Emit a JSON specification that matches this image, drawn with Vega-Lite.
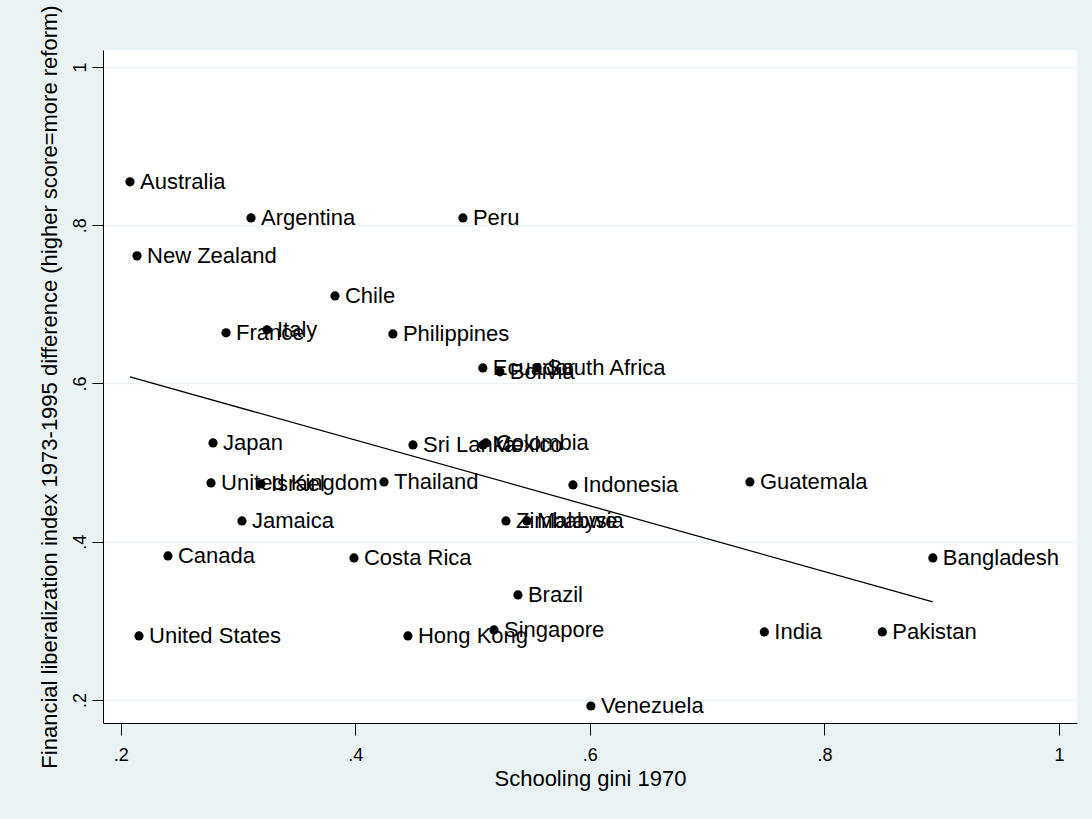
{
  "$schema": "https://vega.github.io/schema/vega-lite/v6.json",
  "width": 974,
  "height": 673,
  "autosize": {"type": "none"},
  "padding": {"left": 103, "top": 50, "right": 15, "bottom": 96},
  "background": "#EAF2F3",
  "config": {
    "view": {"fill": "white", "stroke": null},
    "font": "Liberation Sans"
  },
  "data": {
    "values": [
      {"country": "Australia", "gini": 0.2079, "fl": 0.8549},
      {"country": "Argentina", "gini": 0.3111, "fl": 0.8093},
      {"country": "Peru", "gini": 0.4918, "fl": 0.8093},
      {"country": "New Zealand", "gini": 0.2139, "fl": 0.7613},
      {"country": "Chile", "gini": 0.3827, "fl": 0.7107},
      {"country": "France", "gini": 0.2898, "fl": 0.664},
      {"country": "Italy", "gini": 0.3247, "fl": 0.6678},
      {"country": "Philippines", "gini": 0.4321, "fl": 0.6627},
      {"country": "Ecuador", "gini": 0.5088, "fl": 0.6197},
      {"country": "Bolivia", "gini": 0.5233, "fl": 0.6147},
      {"country": "South Africa", "gini": 0.5549, "fl": 0.6197},
      {"country": "Japan", "gini": 0.2787, "fl": 0.5249},
      {"country": "Sri Lanka", "gini": 0.4492, "fl": 0.5224},
      {"country": "Colombia", "gini": 0.5114, "fl": 0.5249},
      {"country": "Mexico", "gini": 0.5088, "fl": 0.5224},
      {"country": "United Kingdom", "gini": 0.277, "fl": 0.4743},
      {"country": "Israel", "gini": 0.3196, "fl": 0.4731},
      {"country": "Thailand", "gini": 0.4245, "fl": 0.4756},
      {"country": "Indonesia", "gini": 0.5856, "fl": 0.4718},
      {"country": "Guatemala", "gini": 0.7365, "fl": 0.4756},
      {"country": "Jamaica", "gini": 0.3034, "fl": 0.4263},
      {"country": "Zimbabwe", "gini": 0.5285, "fl": 0.4263},
      {"country": "Malaysia", "gini": 0.5464, "fl": 0.4263},
      {"country": "Canada", "gini": 0.2403, "fl": 0.382},
      {"country": "Costa Rica", "gini": 0.3989, "fl": 0.3795},
      {"country": "Bangladesh", "gini": 0.8925, "fl": 0.3795},
      {"country": "Brazil", "gini": 0.5387, "fl": 0.3327},
      {"country": "United States", "gini": 0.2156, "fl": 0.2809},
      {"country": "Hong Kong", "gini": 0.4449, "fl": 0.2809},
      {"country": "Singapore", "gini": 0.5183, "fl": 0.2885},
      {"country": "India", "gini": 0.7488, "fl": 0.286},
      {"country": "Pakistan", "gini": 0.8494, "fl": 0.286},
      {"country": "Venezuela", "gini": 0.6009, "fl": 0.1924}
    ]
  },
  "encoding": {
    "x": {
      "field": "gini",
      "type": "quantitative",
      "scale": {"domain": [0.1849, 1.0154], "nice": false, "zero": false},
      "axis": {
        "title": "Schooling gini 1970",
        "values": [0.2, 0.4, 0.6, 0.8, 1],
        "labelExpr": "datum.value >= 0.99 ? '1' : replace(format(datum.value, '.1f'), '0.', '.')",
        "grid": false,
        "domainColor": "black",
        "domainWidth": 1,
        "tickColor": "black",
        "tickWidth": 1,
        "tickSize": 12,
        "labelFontSize": 18,
        "labelColor": "black",
        "labelPadding": 11,
        "labelFlush": false,
        "labelOverlap": false,
        "titleFontSize": 22,
        "titleFontWeight": "normal",
        "titleColor": "black",
        "titlePadding": 4
      }
    },
    "y": {
      "field": "fl",
      "type": "quantitative",
      "scale": {"domain": [0.1709, 1.0215], "nice": false, "zero": false},
      "axis": {
        "title": "Financial liberalization index 1973-1995 difference (higher score=more reform)",
        "values": [0.2, 0.4, 0.6, 0.8, 1],
        "labelExpr": "datum.value >= 0.99 ? '1' : replace(format(datum.value, '.1f'), '0.', '.')",
        "grid": true,
        "gridColor": "#EAF2F3",
        "gridWidth": 1.5,
        "domainColor": "black",
        "domainWidth": 1,
        "tickColor": "black",
        "tickWidth": 1,
        "tickSize": 11,
        "labelAngle": -90,
        "labelAlign": "center",
        "labelBaseline": "bottom",
        "labelFontSize": 18,
        "labelColor": "black",
        "labelPadding": 3,
        "labelFlush": false,
        "labelOverlap": false,
        "titleFontSize": 22,
        "titleFontWeight": "normal",
        "titleColor": "black",
        "titlePadding": 10
      }
    }
  },
  "layer": [
    {
      "transform": [{"regression": "fl", "on": "gini"}],
      "mark": {"type": "line", "color": "black", "strokeWidth": 1.3}
    },
    {
      "mark": {"type": "circle", "color": "black", "opacity": 1, "size": 85}
    },
    {
      "mark": {"type": "text", "align": "left", "baseline": "middle", "dx": 10, "fontSize": 22, "color": "black"},
      "encoding": {"text": {"field": "country", "type": "nominal"}}
    }
  ]
}
